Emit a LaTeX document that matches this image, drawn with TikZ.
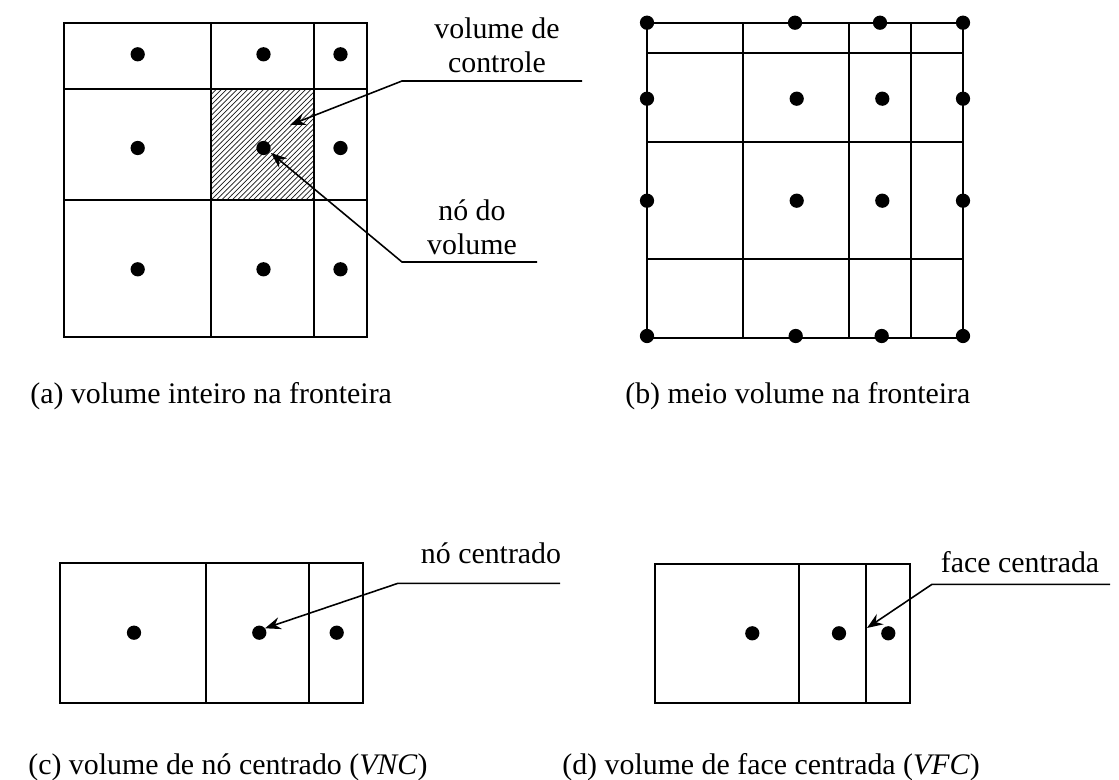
\documentclass[tikz,border=0pt]{standalone}
\usepackage{fontspec}
\setmainfont{Liberation Serif}
\usetikzlibrary{arrows.meta,patterns}

\begin{document}
\begin{tikzpicture}[x=0.02cm,y=-0.02cm,
  grid/.style={line width=1.1pt},
  dot/.style={circle,fill,inner sep=0pt,minimum size=8.1pt},
  leader/.style={line width=0.9pt,-{Stealth[length=9pt,width=7pt,inset=3pt]}},
  lbl/.style={font=\fontsize{17}{19.5}\selectfont,align=center},
  captext/.style={font=\fontsize{17}{19.5}\selectfont,anchor=west,inner sep=0pt}]

\useasboundingbox (0,0) rectangle (1119,780);



\fill [pattern=north east lines, pattern color=black!90] (211,89) rectangle (314,200);

\draw [grid] (64,22.7) rectangle (367,337);
\draw [grid] (211,22.7) -- (211,337);
\draw [grid] (314,22.7) -- (314,337);
\draw [grid] (64,89) -- (367,89);
\draw [grid] (64,200) -- (367,200);



\node (a11) at (137.7,54.3) [dot] {};
\node (a12) at (263.5,54.3) [dot] {};
\node (a13) at (340.5,54.3) [dot] {};
\node (a21) at (137.7,148) [dot] {};
\node (a22) at (263.5,148) [dot] {};
\node (a23) at (340.5,148) [dot] {};
\node (a31) at (137.7,269.3) [dot] {};
\node (a32) at (263.5,269.3) [dot] {};
\node (a33) at (340.5,269.3) [dot] {};



\node (ctrltxt) at (497,45) [lbl] {volume de\\controle};
\coordinate (ctrlR) at (582,81);
\coordinate (ctrlK) at (402,81);
\coordinate (ctrlTip) at (290,125);
\draw [leader] (ctrlR) -- (ctrlK) -- (ctrlTip);


\node (nodetxt) at (472,227) [lbl] {nó do\\volume};
\coordinate (nodeR) at (537,262);
\coordinate (nodeK) at (402,262);
\coordinate (nodeTip) at (271,153);
\draw [leader] (nodeR) -- (nodeK) -- (nodeTip);


\node (capa) at (30,396) [captext] {(a) volume inteiro na fronteira};



\draw [grid] (647,22.7) rectangle (963,338);
\draw [grid] (743,22.7) -- (743,338);
\draw [grid] (849,22.7) -- (849,338);
\draw [grid] (911,22.7) -- (911,338);
\draw [grid] (647,52.7) -- (963,52.7);
\draw [grid] (647,142.3) -- (963,142.3);
\draw [grid] (647,259) -- (963,259);



\node (b11) at (647,22.7) [dot] {};
\node (b12) at (795,22.7) [dot] {};
\node (b13) at (880,22.7) [dot] {};
\node (b14) at (963,22.7) [dot] {};
\node (b21) at (647,98.7) [dot] {};
\node (b22) at (796.7,98.7) [dot] {};
\node (b23) at (882.3,98.7) [dot] {};
\node (b24) at (963,98.7) [dot] {};
\node (b31) at (647,200.7) [dot] {};
\node (b32) at (796.7,200.7) [dot] {};
\node (b33) at (882.3,200.7) [dot] {};
\node (b34) at (963,200.7) [dot] {};
\node (b41) at (647,336) [dot] {};
\node (b42) at (795.7,336) [dot] {};
\node (b43) at (881.7,336) [dot] {};
\node (b44) at (963,336) [dot] {};


\node (capb) at (625,396) [captext] {(b) meio volume na fronteira};



\draw [grid] (60,563) rectangle (363,703);
\draw [grid] (206,563) -- (206,703);
\draw [grid] (309,563) -- (309,703);

\node (c1) at (134,632.7) [dot] {};
\node (c2) at (259.3,632.7) [dot] {};
\node (c3) at (336.7,632.7) [dot] {};

\node (ctxt) at (491,553) [lbl] {nó centrado};
\coordinate (cR) at (560,583.3);
\coordinate (cK) at (398,583.3);
\coordinate (cTip) at (265,628.3);
\draw [leader] (cR) -- (cK) -- (cTip);

\node (capc) at (28,767) [captext] {(c) volume de nó centrado (\textit{VNC})};



\draw [grid] (655,564) rectangle (910,703);
\draw [grid] (799,564) -- (799,703);
\draw [grid] (866,564) -- (866,703);

\node (d1) at (752.3,633.3) [dot] {};
\node (d2) at (839,633.3) [dot] {};
\node (d3) at (888.3,633.3) [dot] {};

\node (dtxt) at (1020,562) [lbl] {face centrada};
\coordinate (dR) at (1110,584.3);
\coordinate (dK) at (932,584.3);
\coordinate (dTip) at (867,628);
\draw [leader] (dR) -- (dK) -- (dTip);

\node (capd) at (562,767) [captext] {(d) volume de face centrada (\textit{VFC})};


\end{tikzpicture}
\end{document}
